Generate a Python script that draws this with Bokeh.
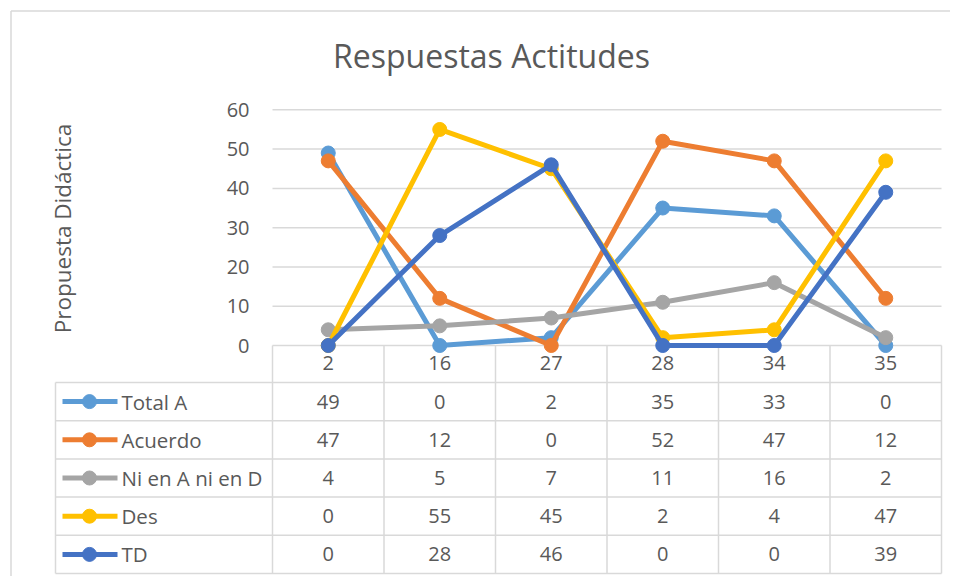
import math
from bokeh.plotting import figure
from bokeh.models import Range1d
from bokeh.embed import file_html
from bokeh.resources import INLINE
from bokeh.core.properties import value

# ---------------- data ----------------
categories = ["2", "16", "27", "28", "34", "35"]
series_names = ["Total A", "Acuerdo", "Ni en A ni en D", "Des", "TD"]
total_a = [49, 0, 2, 35, 33, 0]
acuerdo = [47, 12, 0, 52, 47, 12]
ni_en_a_ni_en_d = [4, 5, 7, 11, 16, 2]
des = [0, 55, 45, 2, 4, 47]
td = [0, 28, 46, 0, 0, 39]
y_ticks = [0, 10, 20, 30, 40, 50, 60]
title_text = "Respuestas Actitudes"
y_title = "Propuesta Didáctica"

series_values = [total_a, acuerdo, ni_en_a_ni_en_d, des, td]
colors = ["#5B9BD5", "#ED7D31", "#A5A5A5", "#FFC000", "#4472C4"]

# ---------------- geometry (reference pixel layout) ----------------
W, H = 950, 576
OFF = 0
X0_REF = 272.0        # left edge of plot area / table
COL_W = 111.5
Y0_REF = 345.0        # pixel of value 0
PX_PER_UNIT = 3.928

def xd(px):
    return (px - X0_REF) / COL_W - 0.5

def yd(px):
    return (Y0_REF - px) / PX_PER_UNIT

FONT = "Open Sans"
TXT = "#595959"
GRID = "#D9D9D9"

p = figure(width=W, height=H, output_backend="svg", toolbar_location=None,
           x_range=Range1d(xd(OFF), xd(OFF + W)),
           y_range=Range1d(yd(OFF + H), yd(OFF)),
           x_axis_location=None, y_axis_location=None,
           min_border=0, tools="")
p.xgrid.visible = False
p.ygrid.visible = False
p.outline_line_color = None
p.background_fill_color = "white"
p.border_fill_color = "white"

n = len(categories)
xs = list(range(n))

# outer chart border (left + top)
p.segment(x0=[xd(10.5), xd(10.5)], y0=[yd(10.5), yd(10.5)],
          x1=[xd(10.5), xd(1000)], y1=[yd(700), yd(10.5)],
          line_color="#D9D9D9", line_width=1.5)

# horizontal gridlines
p.segment(x0=[-0.5] * len(y_ticks), x1=[n - 0.5] * len(y_ticks),
          y0=y_ticks, y1=y_ticks, line_color=GRID, line_width=1.5)

# y tick labels
p.text(x=[xd(249)] * len(y_ticks), y=y_ticks, text=[str(t) for t in y_ticks],
       text_align="right", text_baseline="middle", text_color=TXT,
       text_font=value(FONT), text_font_size="20px")

# y axis title
p.text(x=[xd(62)], y=[yd(228)], text=[y_title], angle=math.pi / 2,
       text_align="center", text_baseline="middle", text_color=TXT,
       text_font=value(FONT), text_font_size="22.5px")

# title
p.text(x=[xd(491)], y=[yd(55)], text=[title_text], text_align="center",
       text_baseline="middle", text_color=TXT, text_font=value(FONT),
       text_font_size="32px")

# ---------------- data table ----------------
HEADER_BOTTOM = 382.0
TABLE_BOTTOM = 573.0
ROW_H = (TABLE_BOTTOM - HEADER_BOTTOM) / len(series_names)
LEG_LEFT = 55.0
row_lines = [HEADER_BOTTOM + k * ROW_H for k in range(len(series_names) + 1)]

p.segment(x0=[xd(LEG_LEFT)] * len(row_lines), x1=[n - 0.5] * len(row_lines),
          y0=[yd(r) for r in row_lines], y1=[yd(r) for r in row_lines],
          line_color=GRID, line_width=1.5)
col_edges = [k - 0.5 for k in range(n + 1)]
p.segment(x0=col_edges, x1=col_edges, y0=[0] * len(col_edges),
          y1=[yd(TABLE_BOTTOM)] * len(col_edges), line_color=GRID, line_width=1.5)
p.segment(x0=[xd(LEG_LEFT)], x1=[xd(LEG_LEFT)], y0=[yd(HEADER_BOTTOM)],
          y1=[yd(TABLE_BOTTOM)], line_color=GRID, line_width=1.5)

# category labels (header row)
p.text(x=xs, y=[yd(362.5)] * n, text=categories,
       text_align="center", text_baseline="middle", text_color=TXT,
       text_font=value(FONT), text_font_size="20px")

for k, (name, vals, col) in enumerate(zip(series_names, series_values, colors)):
    cy = yd(HEADER_BOTTOM + (k + 0.5) * ROW_H)
    p.text(x=xs, y=[cy] * n, text=[str(v) for v in vals], text_align="center",
           text_baseline="middle", text_color=TXT, text_font=value(FONT),
           text_font_size="20px")
    # legend key
    p.line(x=[xd(62), xd(117)], y=[cy, cy], line_color=col, line_width=5)
    p.scatter(x=[xd(89)], y=[cy], size=14, marker="circle", fill_color=col,
              line_color=col)
    p.text(x=[xd(121)], y=[cy], text=[name], text_align="left",
           text_baseline="middle", text_color=TXT, text_font=value(FONT),
           text_font_size="20.5px")

# ---------------- lines ----------------
for vals, col in zip(series_values, colors):
    p.line(x=xs, y=vals, line_color=col, line_width=5, line_join="round")
    p.scatter(x=xs, y=vals, size=14, marker="circle", fill_color=col,
              line_color=col)

open("out.html", "w").write(file_html(p, INLINE))
